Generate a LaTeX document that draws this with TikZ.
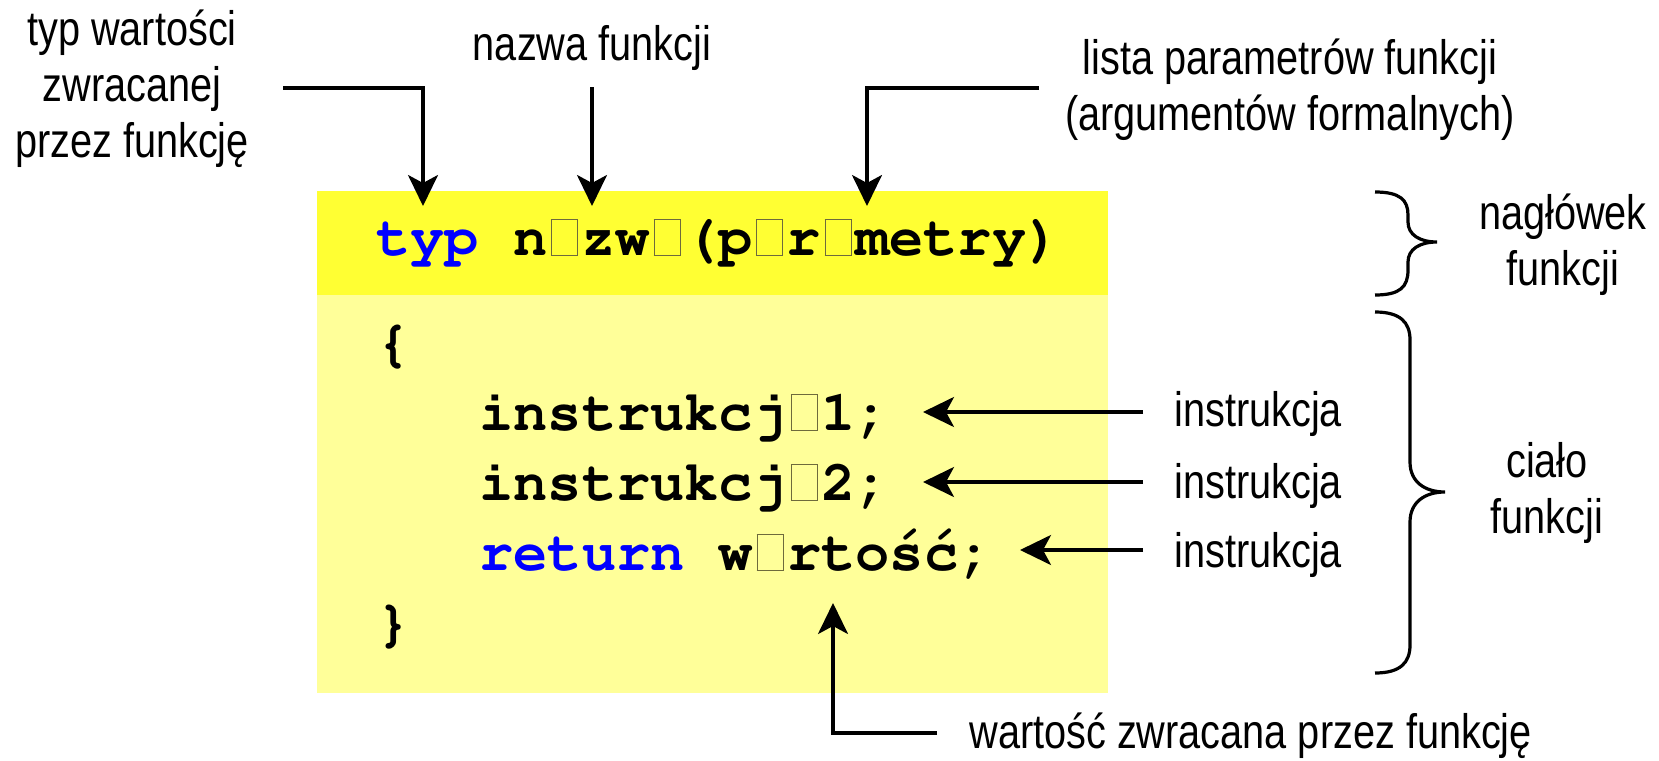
\documentclass[tikz,border=0pt]{standalone}
\usepackage[T1]{fontenc}
\usepackage{fontspec}
\setmainfont{Liberation Sans}[FakeStretch=0.82]
\usetikzlibrary{arrows.meta}

\definecolor{headyellow}{RGB}{255,255,51}
\definecolor{bodyyellow}{RGB}{255,255,153}
\definecolor{keyblue}{RGB}{0,0,255}
\definecolor{glyphbox}{RGB}{110,106,60}

% Courier bold for the code
\newcommand{\codefont}{\fontencoding{T1}\fontfamily{pcr}\fontseries{b}\selectfont}
% empty box where the code font had no glyph
\newcommand{\nogl}{\makebox[0.6em]{\textcolor{glyphbox}{\setlength{\fboxrule}{0.5pt}\setlength{\fboxsep}{0pt}\fbox{\rule{0pt}{0.62em}\hspace{0.44em}}}}}

\tikzset{
    lbl/.style={font=\fontsize{24.2}{28}\selectfont, align=center, inner sep=0pt},
    code/.style={font=\fontsize{28.5}{35}\codefont, anchor=base west, inner sep=0pt},
    arr/.style={line width=1.6pt, -{Stealth[length=15.5pt,width=15pt,inset=4pt]}},
    brace/.style={line width=1.6pt}
}

\begin{document}
\begin{tikzpicture}[x=0.5pt, y=-0.5pt]
    \useasboundingbox (0,0) rectangle (1659,760);

    % header and body of the function
    \fill[headyellow] (317,191) rectangle (1108,295);
    \fill[bodyyellow] (317,295) rectangle (1108,693);

    \node[code] (hdr) at (376,255) {\textcolor{keyblue}{typ} n\nogl zw\nogl(p\nogl r\nogl metry)};
    \node[code] (lbr) at (376,360) {\{};
    \node[code] (ins1) at (479,430) {instrukcj\nogl 1;};
    \node[code] (ins2) at (479,500) {instrukcj\nogl 2;};
    \node[code] (ret) at (479,570) {\textcolor{keyblue}{return} w\nogl rto\'s\'c;};
    \node[code] (rbr) at (376,640) {\}};

    % labels (base = last line)
    \node[lbl, anchor=base] (typlbl) at (132,157) {typ wartości\\zwracanej\\przez funkcję};
    \node[lbl, anchor=base] (namelbl) at (592,61) {nazwa funkcji};
    \node[lbl, anchor=base] (parlbl) at (1290,130) {lista parametrów funkcji\\(argumentów formalnych)};
    \node[lbl, anchor=base] (hdrlbl) at (1563,285) {nagłówek\\funkcji};
    \node[lbl, anchor=base] (bodylbl) at (1547,533) {ciało\\funkcji};
    \node[lbl, anchor=base west] (inslbl1) at (1174,426) {instrukcja};
    \node[lbl, anchor=base west] (inslbl2) at (1174,498) {instrukcja};
    \node[lbl, anchor=base west] (inslbl3) at (1174,567) {instrukcja};
    \node[lbl, anchor=base west] (retlbl) at (969,748) {wartość zwracana przez funkcję};

    % arrows
    \coordinate (typA) at (283,88);
    \coordinate (typB) at (423,206);
    \coordinate (nameA) at (592,87);
    \coordinate (nameB) at (592,206);
    \coordinate (parA) at (1039,88);
    \coordinate (parB) at (867,206);
    \coordinate (retA) at (937,733);
    \coordinate (retB) at (833,603);

    \draw[arr] (typA) -| (typB);
    \draw[arr] (nameA) -- (nameB);
    \draw[arr] (parA) -| (parB);
    \draw[arr] (retA) -| (retB);

    \coordinate (insA1) at (1143,412);
    \coordinate (insB1) at (923,412);
    \coordinate (insA2) at (1143,482);
    \coordinate (insB2) at (923,482);
    \coordinate (insA3) at (1143,550);
    \coordinate (insB3) at (1020,550);
    \draw[arr] (insA1) -- (insB1);
    \draw[arr] (insA2) -- (insB2);
    \draw[arr] (insA3) -- (insB3);

    % braces
    \draw[brace] (1375,192) .. controls (1400,192) and (1408,200) .. (1408,215)
        -- (1408,222) .. controls (1408,235) and (1420,242) .. (1437,242)
        .. controls (1420,242) and (1408,249) .. (1408,262)
        -- (1408,270) .. controls (1408,287) and (1400,295) .. (1375,295);
    \draw[brace] (1375,312) .. controls (1400,312) and (1410,322) .. (1410,340)
        -- (1410,462) .. controls (1410,482) and (1425,492) .. (1445,492)
        .. controls (1425,492) and (1410,502) .. (1410,522)
        -- (1410,645) .. controls (1410,663) and (1400,673) .. (1375,673);
\end{tikzpicture}
\end{document}
